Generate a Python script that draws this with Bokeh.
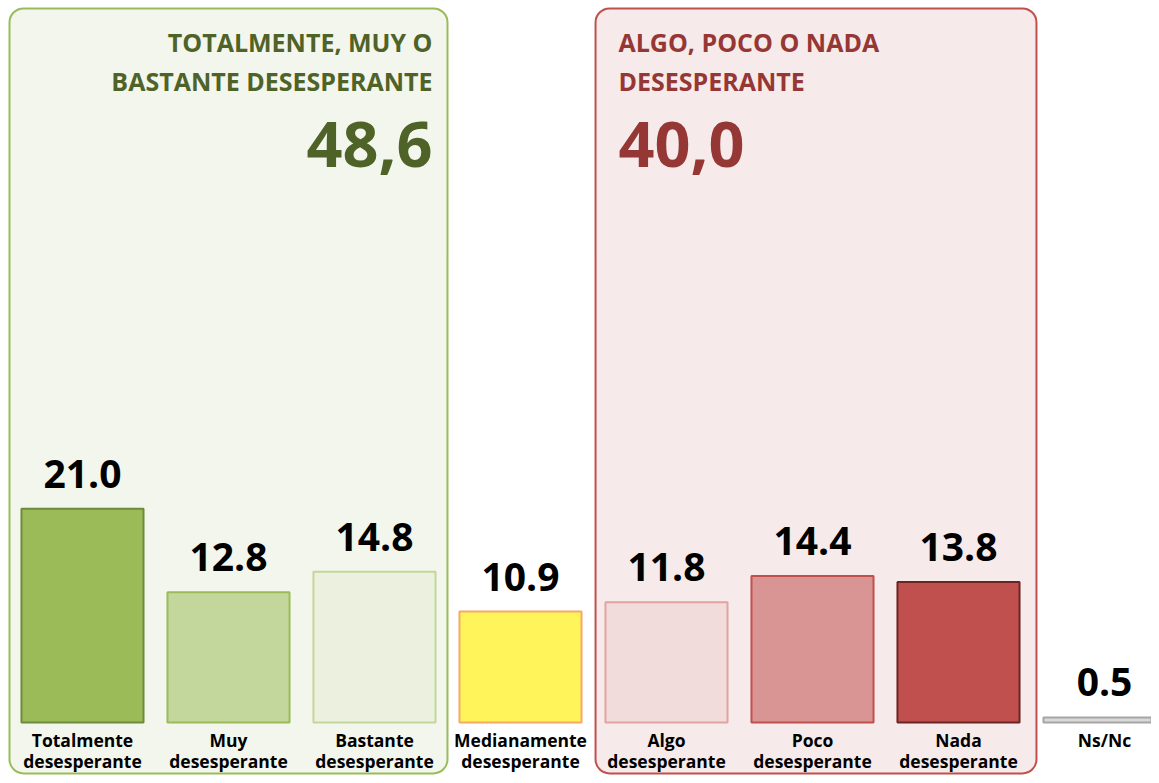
from bokeh.plotting import figure
from bokeh.models import Range1d, Label, ColumnDataSource
from bokeh.core.properties import value
from bokeh.embed import file_html
from bokeh.resources import INLINE

# ---- data ----
categories = ["Totalmente\ndesesperante", "Muy\ndesesperante", "Bastante\ndesesperante",
              "Medianamente\ndesesperante", "Algo\ndesesperante", "Poco\ndesesperante",
              "Nada\ndesesperante", "Ns/Nc"]
values = [21.0, 12.8, 14.8, 10.9, 11.8, 14.4, 13.8, 0.5]
value_labels = ["21.0", "12.8", "14.8", "10.9", "11.8", "14.4", "13.8", "0.5"]
group_titles = [["TOTALMENTE, MUY O", "BASTANTE DESESPERANTE"], ["ALGO, POCO O NADA", "DESESPERANTE"]]
group_totals = ["48,6", "40,0"]

fills = ["#9BBB59", "#C3D69B", "#EBF1DE", "#FFF55A", "#F2DCDB", "#D99594", "#C0504D", "#D9D9D9"]
borders = ["#6E8B3D", "#9BBB59", "#C3D69B", "#F7A866", "#E0A3A2", "#C0504D", "#6B2422", "#A6A6A6"]

FONT = "Open Sans"

xs = list(range(len(values)))
line1 = [c.split("\n")[0] for c in categories]
line2 = [c.split("\n")[1] if "\n" in c else "" for c in categories]

src = ColumnDataSource(dict(x=xs, top=values, fill=fills, border=borders,
                            lab=value_labels, l1=line1, l2=line2))

W, H = 1151, 775
p = figure(width=W, height=H, output_backend="svg", toolbar_location=None,
           x_range=Range1d(-0.5616, 7.3219), y_range=Range1d(-5.206, 70.92),
           min_border=0, min_border_left=0, min_border_right=0,
           min_border_top=0, min_border_bottom=0)
p.axis.visible = False
p.grid.visible = False
p.outline_line_color = None
p.background_fill_color = "white"
p.border_fill_color = "white"

# group boxes
p.quad(left=[-0.5], right=[2.5], bottom=[-5.0], top=[70.14],
       fill_color="#F2F6EC", line_color="#9BBB59", line_width=2, border_radius=14)
p.quad(left=[3.514], right=[6.534], bottom=[-5.0], top=[70.14],
       fill_color="#F7EAEA", line_color="#C0504D", line_width=2, border_radius=14)

# bars
p.vbar(x="x", top="top", bottom=0, width=0.836, source=src,
       fill_color="fill", line_color="border", line_width=2)

# value labels
p.text(x="x", y="top", text="lab", source=src, text_align="center",
       text_baseline="alphabetic", y_offset=-35, text_font=value(FONT),
       text_font_style="bold", text_font_size="39px", text_color="black")

# category labels
p.text(x="x", y=0, text="l1", source=src, text_align="center",
       text_baseline="alphabetic", y_offset=17, text_font=value(FONT),
       text_font_style="bold", text_font_size="17.5px", text_color="black")
p.text(x="x", y=0, text="l2", source=src, text_align="center",
       text_baseline="alphabetic", y_offset=38, text_font=value(FONT),
       text_font_style="bold", text_font_size="17.5px", text_color="black")

# group titles (screen units, y from bottom of frame)
green = "#4F6228"
red = "#953735"
for i, t in enumerate(group_titles[0]):
    p.add_layout(Label(x=432, y=H - (41 + 39 * i), x_units="screen", y_units="screen",
                       text=t, text_align="right", text_baseline="alphabetic",
                       text_font=FONT, text_font_style="bold", text_font_size="25px",
                       text_color=green))
p.add_layout(Label(x=432, y=H - 144, x_units="screen", y_units="screen",
                   text=group_totals[0], text_align="right", text_baseline="alphabetic",
                   text_font=FONT, text_font_style="bold", text_font_size="63px",
                   text_color=green))
for i, t in enumerate(group_titles[1]):
    p.add_layout(Label(x=618, y=H - (41 + 39 * i), x_units="screen", y_units="screen",
                       text=t, text_align="left", text_baseline="alphabetic",
                       text_font=FONT, text_font_style="bold", text_font_size="25px",
                       text_color=red))
p.add_layout(Label(x=618, y=H - 144, x_units="screen", y_units="screen",
                   text=group_totals[1], text_align="left", text_baseline="alphabetic",
                   text_font=FONT, text_font_style="bold", text_font_size="63px",
                   text_color=red))

open("out.html", "w").write(file_html(p, INLINE))
